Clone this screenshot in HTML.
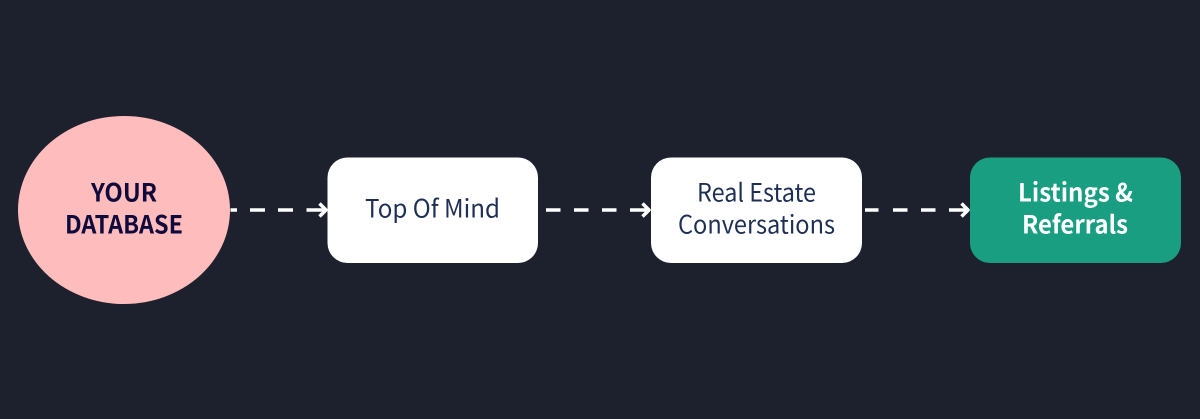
<!DOCTYPE html>
<html lang="en">
<head>
<meta charset="utf-8">
<title>Your Database Flow</title>
<style>
html,body{margin:0;padding:0;width:1200px;height:419px;overflow:hidden;background:#1d212d}
svg{display:block}
text{font-family:"Noto Sans CJK SC","Liberation Sans",sans-serif;font-size:25px;text-anchor:start}
.b{font-weight:700}
</style>
</head>
<body>
<svg width="1200" height="419" viewBox="0 0 1200 419" xmlns="http://www.w3.org/2000/svg">
<rect width="1200" height="419" fill="#1d212d"/>
<ellipse cx="124" cy="210" rx="106" ry="94" fill="#ffbcbc"/>
<rect x="327.500" y="157.500" width="210.500" height="105.500" rx="20" fill="#fff"/>
<rect x="651" y="157.500" width="211" height="105.500" rx="20" fill="#fff"/>
<rect x="970" y="157.500" width="211" height="105.500" rx="20" fill="#1a9e82"/>

<g stroke="#fff" stroke-width="3.500" fill="none" stroke-linejoin="round">
<path d="M230.500 210H237M250 210H265M278 210H293M306.500 210H325"/>
<path d="M319.500 203.500L326 210L319.500 216.500"/>
<path d="M546 210H560.500M574 210H588.500M602 210H616.500M630 210H648"/>
<path d="M642.500 203.500L649 210L642.500 216.500"/>
<path d="M865 210H878.500M893 210H907.500M921 210H935.500M949 210H967"/>
<path d="M961.500 203.500L968 210L961.500 216.500"/>
</g>

<g fill="#0e0a3c" class="b">
<text x="91" y="201.500" textLength="66" lengthAdjust="spacingAndGlyphs">YOUR</text>
<text x="65" y="233.500" textLength="118" lengthAdjust="spacingAndGlyphs">DATABASE</text>
</g>
<g fill="#1e2f55">
<text x="365" y="217.500" textLength="135" lengthAdjust="spacingAndGlyphs">Top Of Mind</text>
<text x="697" y="201.500" textLength="119" lengthAdjust="spacingAndGlyphs">Real Estate</text>
<text x="678" y="233.500" textLength="157" lengthAdjust="spacingAndGlyphs">Conversations</text>
</g>
<g fill="#fff" class="b">
<text x="1018" y="201.500" textLength="115" lengthAdjust="spacingAndGlyphs">Listings &amp;</text>
<text x="1022" y="233.500" textLength="106" lengthAdjust="spacingAndGlyphs">Referrals</text>
</g>
</svg>
</body>
</html>
